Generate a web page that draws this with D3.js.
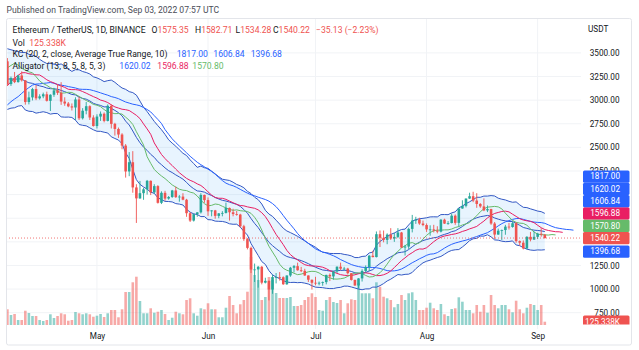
<!DOCTYPE html>
<html>
<head>
<meta charset="utf-8">
<script src="https://cdn.jsdelivr.net/npm/d3@7"></script>
<style>
  body { margin: 0; background: #fff; }
  svg { display: block; font-family: Roboto, "Open Sans", sans-serif; }
</style>
</head>
<body>
<svg id="chart"></svg>
<script>
const firstDay = "2022-04-06";

const opens = [
  // Apr
  3411, 3170, 3235, 3191, 3261, 3209, 2980, 3029, 3117, 3019, 3040, 3062, 2993, 3057, 3103, 3077, 2985, 2964, 2934, 2922, 3007, 2808, 2888, 2936, 2816,
  // May
  2726, 2826, 2856, 2780, 2940, 2749, 2695, 2636, 2519, 2245, 2343, 2076, 1960, 2015, 2056, 2146, 2024, 2090, 1913, 2019, 1958, 1975, 2044, 1973, 1979, 1946, 1803, 1725, 1793, 1812, 1996,
  // Jun
  1942, 1823, 1833, 1775, 1801, 1806, 1859, 1813, 1794, 1789, 1665, 1529, 1436, 1207, 1208, 1236, 1068, 1087, 995, 1127, 1128, 1125, 1051, 1144, 1226, 1243, 1199, 1193, 1144, 1099,
  // Jul
  1067, 1060, 1067, 1074, 1150, 1134, 1187, 1237, 1216, 1217, 1168, 1097, 1038, 1113, 1192, 1233, 1353, 1339, 1581, 1543, 1521, 1577, 1535, 1552, 1599, 1440, 1450, 1637, 1725, 1737, 1694,
  // Aug
  1678, 1632, 1632, 1619, 1608, 1735, 1693, 1699, 1777, 1701, 1853, 1881, 1958, 1983, 1937, 1901, 1875, 1833, 1847, 1694, 1577, 1618, 1625, 1661, 1657, 1697, 1508, 1491, 1430, 1553, 1524,
  // Sep
  1553, 1586, 1575.35,
];

const highs = [
  3445, 3250, 3298, 3268, 3305, 3212, 3090, 3130, 3160, 3062, 3080, 3090, 3062, 3130, 3170, 3190, 3030, 2980, 2965, 3030, 3035, 2915, 2980, 2945, 2840,
  2850, 2880, 2870, 2955, 2955, 2760, 2710, 2650, 2535, 2450, 2460, 2110, 2145, 2070, 2155, 2150, 2110, 2100, 2035, 2040, 1985, 2050, 2085, 1995, 2015, 1955, 1815, 1800, 1815, 2015, 2000,
  1970, 1835, 1838, 1805, 1825, 1915, 1863, 1850, 1827, 1797, 1680, 1540, 1450, 1270, 1245, 1245, 1120, 1090, 1150, 1170, 1180, 1135, 1145, 1235, 1255, 1280, 1235, 1215, 1145, 1100,
  1130, 1080, 1080, 1152, 1165, 1190, 1240, 1280, 1235, 1225, 1170, 1100, 1115, 1210, 1250, 1360, 1405, 1610, 1620, 1620, 1590, 1645, 1595, 1645, 1605, 1468, 1650, 1785, 1765, 1755, 1725,
  1695, 1675, 1680, 1665, 1740, 1745, 1720, 1800, 1790, 1860, 1940, 1960, 2020, 2030, 2015, 1910, 1960, 1885, 1850, 1710, 1640, 1630, 1680, 1700, 1715, 1710, 1515, 1515, 1560, 1605, 1610,
  1595, 1645, 1582.71,
];

const lows = [
  3150, 3150, 3180, 3185, 3197, 2952, 2955, 2997, 3000, 3006, 3020, 2985, 2885, 3035, 3055, 2950, 2940, 2925, 2890, 2790, 2790, 2795, 2850, 2790, 2720,
  2700, 2780, 2765, 2775, 2700, 2625, 2600, 2480, 2180, 2195, 2020, 1700, 1955, 1945, 2000, 1995, 2010, 1905, 1900, 1935, 1946, 1965, 1965, 1925, 1940, 1765, 1710, 1715, 1765, 1800, 1913,
  1775, 1770, 1745, 1750, 1770, 1800, 1725, 1770, 1777, 1650, 1510, 1420, 1170, 1075, 1015, 1050, 1060, 880, 950, 1060, 1090, 1045, 1045, 1130, 1175, 1195, 1180, 1140, 1075, 995,
  1040, 1040, 1035, 1050, 1085, 1100, 1170, 1200, 1200, 1155, 1090, 1035, 1006, 1080, 1175, 1190, 1335, 1335, 1445, 1495, 1475, 1520, 1500, 1540, 1435, 1355, 1425, 1600, 1690, 1680, 1665,
  1605, 1565, 1600, 1590, 1600, 1690, 1680, 1695, 1680, 1660, 1850, 1865, 1955, 1920, 1860, 1860, 1825, 1815, 1680, 1530, 1575, 1520, 1575, 1630, 1650, 1490, 1460, 1420, 1422, 1505, 1520,
  1530, 1555, 1534.28,
];

const closes = [
  3170, 3235, 3191, 3261, 3209, 2980, 3029, 3117, 3019, 3040, 3062, 2993, 3057, 3103, 3077, 2985, 2964, 2934, 2922, 3007, 2808, 2888, 2936, 2816, 2726,
  2826, 2856, 2780, 2940, 2749, 2695, 2636, 2519, 2245, 2343, 2076, 1960, 2015, 2056, 2146, 2024, 2090, 1913, 2019, 1958, 1975, 2044, 1973, 1979, 1946, 1803, 1725, 1793, 1812, 1996, 1942,
  1823, 1833, 1775, 1801, 1806, 1859, 1813, 1794, 1789, 1665, 1529, 1436, 1207, 1208, 1236, 1068, 1087, 995, 1127, 1128, 1125, 1051, 1144, 1226, 1243, 1199, 1193, 1144, 1099, 1067,
  1060, 1067, 1074, 1150, 1134, 1187, 1237, 1216, 1217, 1168, 1097, 1038, 1113, 1192, 1233, 1353, 1339, 1581, 1543, 1521, 1577, 1535, 1552, 1599, 1440, 1450, 1637, 1725, 1737, 1694, 1678,
  1632, 1632, 1619, 1608, 1735, 1693, 1699, 1777, 1701, 1853, 1881, 1958, 1983, 1937, 1901, 1875, 1833, 1847, 1694, 1577, 1618, 1625, 1661, 1657, 1697, 1508, 1491, 1430, 1553, 1524, 1553,
  1586, 1577, 1540.22,
];

// volume in thousands of ETH
const volumes = [
  597, 380, 418, 190, 190, 543, 456, 342, 342, 190, 152, 190, 407, 266, 342, 445, 407, 163, 190, 494, 445, 407, 445, 407, 315,
  353, 418, 304, 445, 570, 570, 293, 597, 1254, 1254, 1623, 1835, 912, 445, 445, 635, 467, 505, 570, 418, 190, 277, 505, 445, 407, 950, 1015, 445, 353, 635, 597,
  825, 597, 597, 293, 293, 657, 1102, 760, 445, 787, 950, 1265, 2584, 1900, 1710, 950, 1064, 1824, 1710, 1216, 1026, 1026, 1026, 1064, 722, 722, 760, 950, 1064, 1205,
  1064, 570, 543, 950, 1064, 874, 836, 950, 445, 825, 977, 950, 1585, 1205, 1205, 1205, 1015, 1623, 1455, 1075, 1015, 950, 673, 798, 1140, 950, 1205, 1243, 950, 570, 570,
  657, 847, 635, 570, 798, 407, 342, 608, 635, 1053, 885, 570, 570, 445, 760, 505, 760, 467, 1140, 760, 635, 760, 760, 597, 483, 923, 597, 445, 657, 798, 760,
  570, 760, 125.338,
];

// earlier candles (Mar 1 - Apr 5) only used to warm up the indicators
const warmHighs = [3040, 3030, 2970, 2850, 2690, 2670, 2650, 2640, 2760, 2730, 2665, 2600, 2600, 2600, 2660, 2790, 2830, 2950, 3000, 2950, 2950, 3040, 3040, 3120, 3180, 3150, 3295, 3480, 3475, 3440, 3440, 3470, 3530, 3580, 3545, 3555];
const warmLows = [2850, 2910, 2815, 2580, 2600, 2540, 2450, 2480, 2570, 2550, 2535, 2550, 2500, 2505, 2550, 2600, 2740, 2755, 2920, 2830, 2835, 2890, 2920, 2990, 3080, 3080, 3120, 3280, 3330, 3340, 3270, 3210, 3440, 3420, 3400, 3405];
const warmCloses = [2972, 2950, 2834, 2617, 2665, 2555, 2497, 2575, 2728, 2607, 2557, 2568, 2517, 2591, 2619, 2773, 2815, 2945, 2947, 2859, 2897, 2971, 3030, 3110, 3105, 3145, 3290, 3337, 3402, 3384, 3281, 3455, 3444, 3522, 3520, 3411];

const priceTicks = [750, 1000, 1250, 1500, 1750, 2000, 2250, 2500, 2750, 3000, 3250, 3500];
const monthTicks = ["2022-05-01", "2022-06-01", "2022-07-01", "2022-08-01", "2022-09-01"];

// legend texts and last values shown by TradingView
const symbolTitle = "Ethereum / TetherUS, 1D, BINANCE";
const ohlcLabels = ["O", "H", "L", "C"];
const ohlcValues = ["1575.35", "1582.71", "1534.28", "1540.22"];
const changeText = "\u221235.13 (\u22122.23%)";
const volumeText = "125.338K";
const kcTitle = "KC (20, 2, close, Average True Range, 10)";
const kcValues = [1817.0, 1606.84, 1396.68];
const alligatorTitle = "Alligator (13, 8, 5, 8, 5, 3)";
const alligatorValues = [1620.02, 1596.88, 1570.8];

class TVChart {
  constructor(_config) {
    this.config = {
      parentElement: _config.parentElement,
      containerWidth: _config.containerWidth || 639,
      containerHeight: _config.containerHeight || 350,
      plot: _config.plot || { left: 6, right: 581, top: 18, bottom: 329 },
    };
    this.colors = {
      up: "#26a69a",
      down: "#ef5350",
      upVol: "rgba(38,166,154,0.5)",
      downVol: "rgba(239,83,80,0.5)",
      kc: "#3358c4",
      jaw: "#2962ff",
      teeth: "#e91e63",
      lips: "#66bb6a",
      text: "#131722",
    };
    this.initVis();
  }

  initVis() {
    let vis = this;
    const p = vis.config.plot;

    vis.svg = d3
      .select(vis.config.parentElement)
      .attr("width", vis.config.containerWidth)
      .attr("height", vis.config.containerHeight);

    vis.parseDay = d3.utcParse("%Y-%m-%d");
    vis.dates = d3.utcDay.range(
      vis.parseDay(firstDay),
      d3.utcDay.offset(vis.parseDay(firstDay), opens.length)
    );

    // scales
    vis.xScale = d3
      .scaleUtc()
      .domain([vis.dates[0], vis.dates[vis.dates.length - 1]])
      .range([7.4, 544.8]);
    vis.yScale = d3.scaleLinear().domain([750, 3500]).range([312.7, 52.9]);
    vis.volScale = d3.scaleLinear().domain([0, 3800]).range([325, 225]);

    vis.svg
      .append("defs")
      .append("clipPath")
      .attr("id", "plot-clip")
      .append("rect")
      .attr("x", p.left)
      .attr("y", p.top)
      .attr("width", p.right - p.left)
      .attr("height", p.bottom - p.top);

    vis.svg
      .select("defs")
      .append("clipPath")
      .attr("id", "axis-clip")
      .append("rect")
      .attr("x", p.right)
      .attr("y", p.top)
      .attr("width", 50)
      .attr("height", 306.5);

    vis.chart = vis.svg.append("g").attr("clip-path", "url(#plot-clip)");
  }

  updateVis() {
    let vis = this;

    const allHighs = warmHighs.concat(highs);
    const allLows = warmLows.concat(lows);
    const allCloses = warmCloses.concat(closes);
    const w = warmCloses.length;

    const ema = (src, len) => {
      const k = 2 / (len + 1);
      const out = [];
      src.forEach((v, i) => out.push(i === 0 ? v : k * v + (1 - k) * out[i - 1]));
      return out;
    };
    // smoothed moving average (RMA / SMMA)
    const rma = (src, len) => {
      const out = [];
      src.forEach((v, i) => {
        if (i < len - 1) out.push(null);
        else if (i === len - 1) out.push(d3.mean(src.slice(0, len)));
        else out.push((out[i - 1] * (len - 1) + v) / len);
      });
      return out;
    };

    const tr = allHighs.map((h, i) => {
      if (i === 0) return h - allLows[i];
      const pc = allCloses[i - 1];
      return Math.max(h - allLows[i], Math.abs(h - pc), Math.abs(allLows[i] - pc));
    });
    const basis = ema(allCloses, 20);
    const atr = rma(tr, 10);
    const hl2 = allHighs.map((h, i) => (h + allLows[i]) / 2);

    vis.candles = vis.dates.map((date, i) => ({
      date: date,
      open: opens[i],
      high: highs[i],
      low: lows[i],
      close: closes[i],
      volume: volumes[i],
    }));

    vis.kc = vis.dates.map((date, i) => ({
      date: date,
      mid: basis[w + i],
      upper: basis[w + i] + 2 * atr[w + i],
      lower: basis[w + i] - 2 * atr[w + i],
    }));

    // alligator lines are shifted forward by their offset
    const shifted = (len, offset) => {
      const s = rma(hl2, len);
      return d3.range(vis.dates.length + offset).map((j) => ({
        date: d3.utcDay.offset(vis.dates[0], j),
        value: s[w + j - offset],
      }));
    };
    vis.jaw = shifted(13, 8);
    vis.teeth = shifted(8, 5);
    vis.lips = shifted(5, 3);

    vis.renderVis();
  }

  renderVis() {
    let vis = this;
    const p = vis.config.plot;
    const c = vis.colors;

    // header above the pane
    vis.svg
      .append("text")
      .attr("x", 6.5)
      .attr("y", 13)
      .style("font-size", "8.6px")
      .style("fill", "#4a4d57")
      .text("Published on TradingView.com, Sep 03, 2022 07:57 UTC");

    // pane frame
    vis.svg
      .append("rect")
      .attr("x", 6.5)
      .attr("y", 18.5)
      .attr("width", 625)
      .attr("height", 326.5)
      .attr("rx", 2)
      .style("fill", "none")
      .style("stroke", "#e3e5ea");

    // grid
    vis.chart
      .selectAll(".hgrid")
      .data(priceTicks)
      .join("line")
      .attr("class", "hgrid")
      .attr("x1", p.left)
      .attr("x2", p.right)
      .attr("y1", (d) => vis.yScale(d))
      .attr("y2", (d) => vis.yScale(d))
      .style("stroke", "#f1f3f6");

    vis.chart
      .selectAll(".vgrid")
      .data(monthTicks.map(vis.parseDay))
      .join("line")
      .attr("class", "vgrid")
      .attr("x1", (d) => vis.xScale(d))
      .attr("x2", (d) => vis.xScale(d))
      .attr("y1", p.top)
      .attr("y2", p.bottom)
      .style("stroke", "#f1f3f6");

    const step = vis.xScale(vis.dates[1]) - vis.xScale(vis.dates[0]);
    const bw = step * 0.72;

    // volume
    vis.chart
      .selectAll(".vol")
      .data(vis.candles)
      .join("rect")
      .attr("class", "vol")
      .attr("x", (d) => vis.xScale(d.date) - bw / 2)
      .attr("y", (d) => vis.volScale(d.volume))
      .attr("width", bw)
      .attr("height", (d) => vis.volScale(0) - vis.volScale(d.volume))
      .style("fill", (d) => (d.close >= d.open ? c.upVol : c.downVol));

    // Keltner channel
    vis.chart
      .append("path")
      .datum(vis.kc)
      .attr(
        "d",
        d3
          .area()
          .x((d) => vis.xScale(d.date))
          .y0((d) => vis.yScale(d.lower))
          .y1((d) => vis.yScale(d.upper))
      )
      .style("fill", "rgba(33,150,243,0.1)");

    ["upper", "mid", "lower"].forEach((key) => {
      vis.chart
        .append("path")
        .datum(vis.kc)
        .attr(
          "d",
          d3
            .line()
            .x((d) => vis.xScale(d.date))
            .y((d) => vis.yScale(d[key]))
        )
        .style("fill", "none")
        .style("stroke", c.kc)
        .style("stroke-width", 1);
    });

    // Alligator
    [
      [vis.jaw, c.jaw],
      [vis.teeth, c.teeth],
      [vis.lips, c.lips],
    ].forEach(([series, color]) => {
      vis.chart
        .append("path")
        .datum(series)
        .attr(
          "d",
          d3
            .line()
            .defined((d) => d.value != null)
            .x((d) => vis.xScale(d.date))
            .y((d) => vis.yScale(d.value))
        )
        .style("fill", "none")
        .style("stroke", color)
        .style("stroke-width", 1);
    });

    // candles
    const candle = vis.chart
      .selectAll(".candle")
      .data(vis.candles)
      .join("g")
      .attr("class", "candle")
      .style("fill", (d) => (d.close >= d.open ? c.up : c.down))
      .style("stroke", (d) => (d.close >= d.open ? c.up : c.down));

    candle
      .append("line")
      .attr("x1", (d) => vis.xScale(d.date))
      .attr("x2", (d) => vis.xScale(d.date))
      .attr("y1", (d) => vis.yScale(d.high))
      .attr("y2", (d) => vis.yScale(d.low))
      .style("stroke-width", 0.9);

    candle
      .append("rect")
      .attr("x", (d) => vis.xScale(d.date) - bw / 2)
      .attr("y", (d) => vis.yScale(Math.max(d.open, d.close)))
      .attr("width", bw)
      .attr("height", (d) =>
        Math.max(0.8, Math.abs(vis.yScale(d.open) - vis.yScale(d.close)))
      )
      .style("stroke", "none");

    // last price line
    const last = vis.candles[vis.candles.length - 1];
    vis.chart
      .append("line")
      .attr("x1", p.left)
      .attr("x2", p.right)
      .attr("y1", vis.yScale(last.close))
      .attr("y2", vis.yScale(last.close))
      .style("stroke", c.down)
      .style("stroke-width", 0.8)
      .style("stroke-dasharray", "1,2");

    // legend
    const legend = vis.svg.append("g").style("font-size", "8.6px");
    const row = (y, x, text, color) =>
      legend
        .append("text")
        .attr("x", x)
        .attr("y", y)
        .style("fill", color)
        .text(text);

    row(33.2, 12.5, symbolTitle, c.text);
    [151.5, 195, 235.5, 273].forEach((x, i) => {
      const t = row(33.2, x, ohlcLabels[i], c.text);
      t.append("tspan").style("fill", c.down).text(ohlcValues[i]);
    });
    row(33.2, 316, changeText, c.down);

    row(45.5, 12.5, "Vol", c.text);
    row(45.5, 29.3, volumeText, c.down);

    row(56.8, 12.5, kcTitle, c.text);
    [176.7, 213.3, 250.7].forEach((x, i) =>
      row(56.8, x, d3.format(".2f")(kcValues[i]), c.jaw)
    );

    row(69, 12.5, alligatorTitle, c.text);
    [119.3, 157.3, 192.3].forEach((x, i) =>
      row(69, x, d3.format(".2f")(alligatorValues[i]), [c.jaw, c.teeth, c.lips][i])
    );

    // value labels on the price axis, stacked upward like TradingView
    const tags = [
      { v: kcValues[0], color: c.jaw },
      { v: alligatorValues[0], color: c.jaw },
      { v: kcValues[1], color: c.jaw },
      { v: alligatorValues[1], color: c.teeth },
      { v: alligatorValues[2], color: c.lips },
      { v: last.close, color: c.down },
      { v: kcValues[2], color: c.jaw },
    ].map((d) => ({ ...d, text: d3.format(".2f")(d.v), y: vis.yScale(d.v) }));
    tags.sort((a, b) => a.v - b.v);
    const tagH = 12.3;
    tags.forEach((d, i) => {
      if (i > 0) d.y = Math.min(d.y, tags[i - 1].y - tagH);
    });
    const tagTop = tags[tags.length - 1].y;
    const tagBottom = tags[0].y + tagH / 2;

    // price axis; tick labels lying under the value labels stay hidden
    const axisG = vis.svg
      .append("g")
      .attr("clip-path", "url(#axis-clip)")
      .append("g")
      .attr("transform", `translate(${p.right},0)`)
      .call(
        d3
          .axisRight(vis.yScale)
          .tickValues(
            priceTicks.filter((t) => {
              const y = vis.yScale(t);
              return y < tagTop || y > tagBottom;
            })
          )
          .tickSize(0)
          .tickFormat(d3.format(".2f"))
      );
    axisG.select(".domain").remove();
    axisG
      .selectAll("text")
      .attr("x", 38.5)
      .attr("text-anchor", "end")
      .style("font-family", "Roboto, sans-serif")
      .style("font-size", "8.2px")
      .style("fill", c.text);

    vis.svg
      .append("text")
      .attr("x", 588)
      .attr("y", 32.3)
      .style("font-size", "8.2px")
      .style("fill", c.text)
      .text("USDT");

    tags.push({
      text: volumeText,
      color: c.down,
      y: vis.volScale(last.volume),
    });

    const tagG = vis.svg
      .append("g")
      .attr("clip-path", "url(#axis-clip)")
      .selectAll(".tag")
      .data(tags)
      .join("g")
      .attr("class", "tag")
      .attr("transform", (d) => `translate(583,${d.y})`);
    tagG
      .append("rect")
      .attr("y", -tagH / 2)
      .attr("width", 46.5)
      .attr("height", tagH)
      .attr("rx", 1.5)
      .style("fill", (d) => d.color);
    tagG
      .append("text")
      .attr("x", 37)
      .attr("dy", "0.35em")
      .attr("text-anchor", "end")
      .style("font-size", "8.2px")
      .style("fill", "#fff")
      .text((d) => d.text);

    // time axis
    const timeG = vis.svg
      .append("g")
      .attr("transform", `translate(0,331)`)
      .call(
        d3
          .axisBottom(vis.xScale)
          .tickValues(monthTicks.map(vis.parseDay))
          .tickSize(0)
          .tickPadding(2)
          .tickFormat(d3.utcFormat("%b"))
      );
    timeG.select(".domain").remove();
    timeG
      .selectAll("text")
      .style("font-family", "Roboto, sans-serif")
      .style("font-size", "8.2px")
      .style("fill", c.text);
  }
}

const chart = new TVChart({ parentElement: "#chart" });
chart.updateVis();
</script>
</body>
</html>
